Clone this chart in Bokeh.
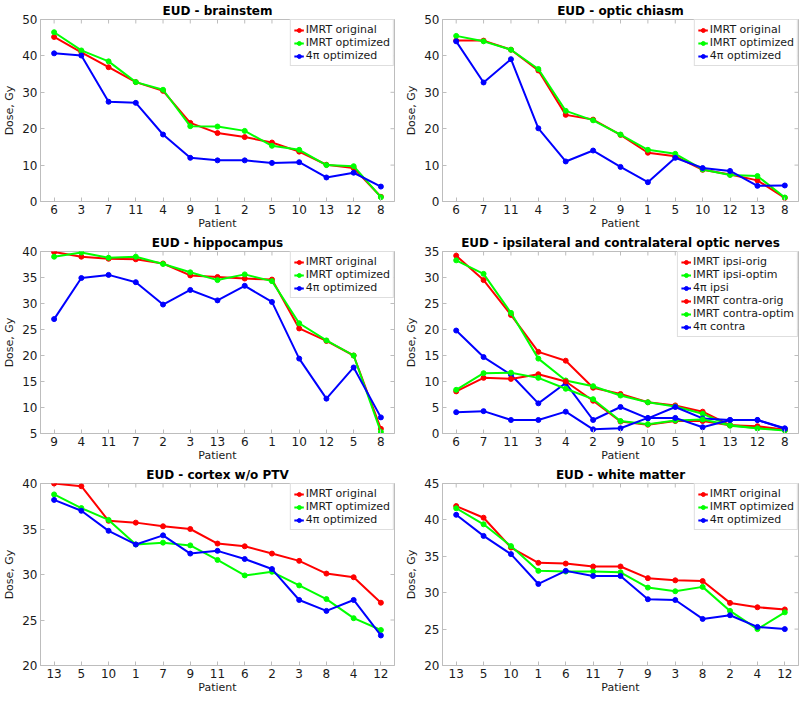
from bokeh.plotting import figure
from bokeh.layouts import gridplot
from bokeh.models import FactorRange, Range1d, FixedTicker
from bokeh.embed import file_html
from bokeh.resources import INLINE

# ---------------- data ----------------
brainstem_patients = ["6", "3", "7", "11", "4", "9", "1", "2", "5", "10", "13", "12", "8"]
brainstem_imrt_orig = [45.2, 41.0, 36.9, 32.8, 30.4, 21.6, 18.8, 17.7, 16.2, 13.7, 10.1, 9.2, 1.3]
brainstem_imrt_opt = [46.5, 41.5, 38.5, 32.8, 30.7, 20.7, 20.6, 19.4, 15.3, 14.2, 10.0, 9.7, 1.2]
brainstem_4pi = [40.7, 40.1, 27.4, 27.1, 18.4, 12.0, 11.3, 11.3, 10.6, 10.8, 6.6, 7.9, 4.1]

chiasm_patients = ["6", "7", "11", "4", "3", "2", "9", "1", "5", "10", "12", "13", "8"]
chiasm_imrt_orig = [44.2, 44.2, 41.7, 36.0, 23.8, 22.5, 18.3, 13.4, 12.4, 8.7, 7.4, 5.8, 1.0]
chiasm_imrt_opt = [45.5, 44.0, 41.7, 36.4, 24.9, 22.3, 18.4, 14.2, 13.1, 8.8, 7.3, 7.0, 1.1]
chiasm_4pi = [44.0, 32.7, 39.1, 20.1, 11.0, 14.0, 9.5, 5.3, 12.0, 9.2, 8.4, 4.3, 4.4]

hippo_patients = ["9", "4", "11", "7", "2", "3", "13", "6", "1", "10", "12", "5", "8"]
hippo_imrt_orig = [39.9, 39.0, 38.6, 38.5, 37.7, 35.4, 35.1, 34.8, 34.6, 25.2, 22.8, 20.0, 5.9]
hippo_imrt_opt = [39.0, 39.8, 38.8, 39.0, 37.6, 36.0, 34.5, 35.6, 34.3, 26.2, 22.9, 20.0, 5.3]
hippo_4pi = [27.0, 34.9, 35.5, 34.1, 29.8, 32.6, 30.6, 33.4, 30.3, 19.4, 11.7, 17.7, 8.1]

nerves_patients = ["6", "7", "11", "3", "4", "2", "9", "10", "5", "1", "13", "12", "8"]
nerves_ipsi_orig = [34.2, 29.5, 22.8, 15.7, 14.0, 8.8, 7.6, 6.0, 5.4, 4.2, 1.6, 1.2, 0.7]
nerves_ipsi_optim = [33.3, 30.7, 23.2, 14.4, 10.2, 9.1, 7.3, 6.0, 5.2, 3.8, 1.5, 1.0, 0.7]
nerves_4pi_ipsi = [19.8, 14.7, 11.3, 5.8, 9.7, 2.6, 5.1, 2.9, 5.1, 2.9, 2.6, 2.6, 1.0]
nerves_contra_orig = [8.1, 10.7, 10.5, 11.4, 10.0, 6.3, 2.3, 1.7, 2.4, 2.4, 1.6, 1.4, 0.7]
nerves_contra_optim = [8.4, 11.6, 11.7, 10.7, 8.6, 6.6, 2.4, 1.8, 2.5, 2.7, 1.6, 1.0, 0.6]
nerves_4pi_contra = [4.1, 4.3, 2.6, 2.6, 4.2, 0.8, 1.0, 3.0, 3.0, 1.2, 2.6, 2.6, 0.9]

cortex_patients = ["13", "5", "10", "1", "7", "9", "11", "6", "2", "3", "8", "4", "12"]
cortex_imrt_orig = [40.0, 39.7, 35.9, 35.7, 35.3, 35.0, 33.4, 33.1, 32.3, 31.5, 30.1, 29.7, 26.9]
cortex_imrt_opt = [38.8, 37.3, 36.0, 33.3, 33.5, 33.2, 31.6, 29.9, 30.3, 28.8, 27.3, 25.2, 23.9]
cortex_4pi = [38.2, 37.0, 34.8, 33.3, 34.3, 32.3, 32.6, 31.7, 30.6, 27.2, 26.0, 27.2, 23.3]

wm_patients = ["13", "5", "10", "1", "6", "11", "7", "9", "3", "8", "2", "4", "12"]
wm_imrt_orig = [41.9, 40.3, 36.2, 34.1, 34.0, 33.6, 33.6, 32.0, 31.7, 31.6, 28.6, 28.0, 27.7]
wm_imrt_opt = [41.6, 39.4, 36.4, 33.0, 32.9, 32.9, 32.8, 30.7, 30.2, 30.8, 27.5, 25.0, 27.3]
wm_4pi = [40.7, 37.8, 35.3, 31.2, 33.0, 32.3, 32.3, 29.1, 29.0, 26.4, 26.9, 25.3, 25.0]

# ---------------- style ----------------
FONT = "DejaVu Sans"
RED, GREEN, BLUE = "#ff0000", "#00ff00", "#0000ff"
FRAME = "#bdbdbd"
TXT = "#1a1a1a"
FRAME_H = 182
TICK_PX = 4


def make_panel(title, patients, series, y_lo, y_hi, y_step, left_side):
    fw = 354 if left_side else 356
    p = figure(
        frame_width=fw,
        frame_height=FRAME_H,
        x_range=FactorRange(*patients),
        y_range=Range1d(y_lo, y_hi),
        title=title,
        output_backend="svg", toolbar_location=None,
        min_border_left=30 if left_side else 32,
        min_border_right=8 if left_side else 2,
        min_border_top=0, min_border_bottom=2,
    )
    p.x_range.range_padding = 0
    p.xgrid.visible = False
    p.ygrid.visible = False
    p.outline_line_color = FRAME
    p.outline_line_alpha = 1.0
    p.background_fill_color = "white"
    p.border_fill_color = "white"

    p.title.text_font = FONT
    p.title.text_font_size = "12px"
    p.title.text_font_style = "bold"
    p.title.text_color = "black"
    p.title.align = "center"
    p.title.standoff = 3

    ticks = list(range(y_lo, y_hi + 1, y_step))
    p.yaxis.ticker = FixedTicker(ticks=ticks)

    for ax in (p.xaxis[0], p.yaxis[0]):
        ax.axis_line_color = FRAME
        ax.major_tick_line_color = FRAME
        ax.major_tick_in = TICK_PX
        ax.major_tick_out = 0
        ax.minor_tick_line_color = None
        ax.major_label_text_font = FONT
        ax.major_label_text_font_size = "12px"
        ax.major_label_text_color = TXT
        ax.axis_label_text_font = FONT
        ax.axis_label_text_font_size = "11px"
        ax.axis_label_text_font_style = "normal"
        ax.axis_label_text_color = TXT
    p.xaxis.axis_label = "Patient"
    p.yaxis.axis_label = "Dose, Gy"
    p.xaxis.major_label_standoff = 3
    p.xaxis.axis_label_standoff = 0
    p.yaxis.major_label_standoff = 3
    p.yaxis.axis_label_standoff = 3

    # inward tick marks on the top and right edges of the box (MATLAB "box on")
    dy = (y_hi - y_lo) * TICK_PX / FRAME_H
    p.segment(x0=patients, y0=[y_hi] * len(patients), x1=patients,
              y1=[y_hi - dy] * len(patients), line_color=FRAME, line_width=1)
    dx = TICK_PX / (fw / len(patients))
    last = patients[-1]
    p.segment(x0=[(last, 0.5)] * len(ticks), y0=ticks,
              x1=[(last, 0.5 - dx)] * len(ticks), y1=ticks,
              line_color=FRAME, line_width=1)

    for label, vals, color in series:
        p.line(patients, vals, line_color=color, line_width=2, legend_label=label)
        p.scatter(patients, vals, size=5, fill_color=color, line_color=color, legend_label=label)

    lg = p.legend[0]
    lg.location = "top_right"
    lg.margin = 0
    lg.padding = 3
    lg.spacing = 0
    lg.border_line_color = FRAME
    lg.background_fill_alpha = 1.0
    lg.label_text_font = FONT
    lg.label_text_font_size = "11px"
    lg.label_text_color = TXT
    lg.label_height = 12
    lg.glyph_height = 12
    lg.glyph_width = 10
    lg.label_standoff = 2
    return p


p1 = make_panel("EUD - brainstem", brainstem_patients, [
    ("IMRT original", brainstem_imrt_orig, RED),
    ("IMRT optimized", brainstem_imrt_opt, GREEN),
    ("4\u03c0 optimized", brainstem_4pi, BLUE)], 0, 50, 10, True)
p2 = make_panel("EUD - optic chiasm", chiasm_patients, [
    ("IMRT original", chiasm_imrt_orig, RED),
    ("IMRT optimized", chiasm_imrt_opt, GREEN),
    ("4\u03c0 optimized", chiasm_4pi, BLUE)], 0, 50, 10, False)
p3 = make_panel("EUD - hippocampus", hippo_patients, [
    ("IMRT original", hippo_imrt_orig, RED),
    ("IMRT optimized", hippo_imrt_opt, GREEN),
    ("4\u03c0 optimized", hippo_4pi, BLUE)], 5, 40, 5, True)
p4 = make_panel("EUD - ipsilateral and contralateral optic nerves", nerves_patients, [
    ("IMRT ipsi-orig", nerves_ipsi_orig, RED),
    ("IMRT ipsi-optim", nerves_ipsi_optim, GREEN),
    ("4\u03c0 ipsi", nerves_4pi_ipsi, BLUE),
    ("IMRT contra-orig", nerves_contra_orig, RED),
    ("IMRT contra-optim", nerves_contra_optim, GREEN),
    ("4\u03c0 contra", nerves_4pi_contra, BLUE)], 0, 35, 5, False)
p5 = make_panel("EUD - cortex w/o PTV", cortex_patients, [
    ("IMRT original", cortex_imrt_orig, RED),
    ("IMRT optimized", cortex_imrt_opt, GREEN),
    ("4\u03c0 optimized", cortex_4pi, BLUE)], 20, 40, 5, True)
p6 = make_panel("EUD - white matter", wm_patients, [
    ("IMRT original", wm_imrt_orig, RED),
    ("IMRT optimized", wm_imrt_opt, GREEN),
    ("4\u03c0 optimized", wm_4pi, BLUE)], 20, 45, 5, False)

grid = gridplot([[p1, p2], [p3, p4], [p5, p6]], toolbar_location=None)

open("out.html", "w").write(file_html(grid, INLINE))
